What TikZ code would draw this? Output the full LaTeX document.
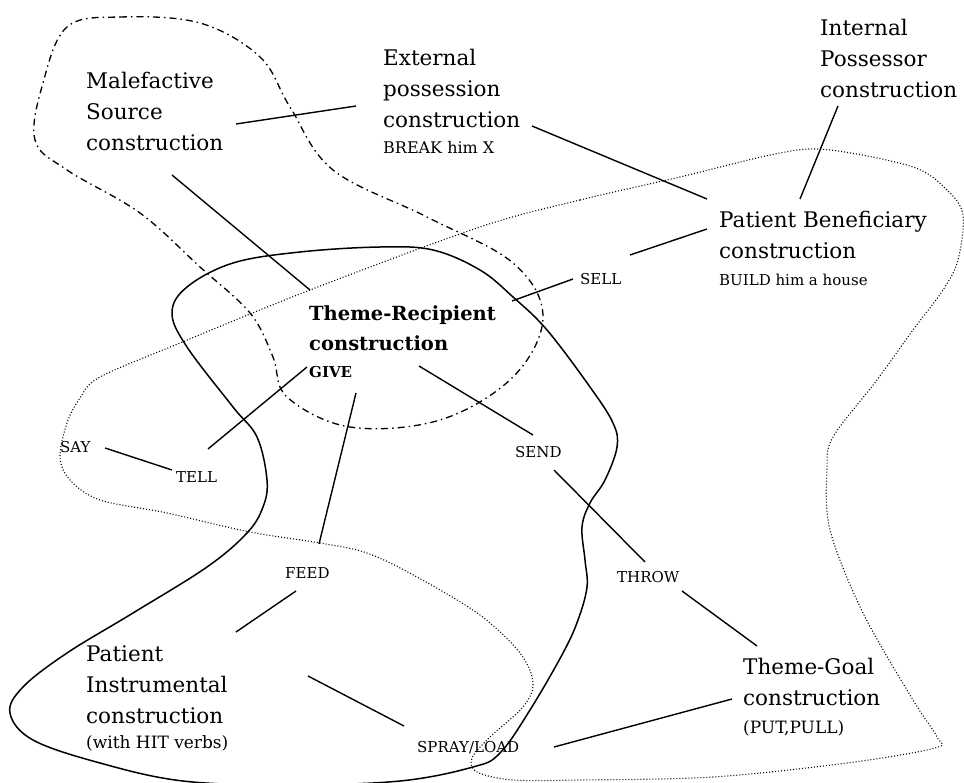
\documentclass[tikz,border=0pt]{standalone}
\usepackage{fontspec}
\setmainfont{DejaVu Serif}
\begin{document}
\begin{tikzpicture}[x=1pt,y=-1pt,
  big/.style={font=\fontsize{21.5}{31}\selectfont, align=left, inner sep=0pt, anchor=base west},
  bigbold/.style={font=\bfseries\fontsize{19.5}{30}\selectfont, align=left, inner sep=0pt, anchor=base west},
  verb/.style={font=\fontsize{15}{18}\selectfont, inner sep=0pt, anchor=base west},
  link/.style={line width=1.4pt},
  solidregion/.style={line width=1.5pt},
  dottedregion/.style={line width=1.1pt, dash pattern=on 1pt off 2pt},
  dashdotregion/.style={line width=1.3pt, dash pattern=on 7pt off 4pt on 1.5pt off 4pt}]
\useasboundingbox (0,0) rectangle (964,783);

% regions
\draw[dashdotregion] plot[smooth cycle, tension=0.6] coordinates {
  (67,27) (120,17) (200,23) (260,57) (290,107) (333,170) (427,217) (513,263)
  (543,317) (513,377) (440,420) (350,427) (287,397) (273,357) (250,313)
  (200,267) (140,213) (67,170) (35,140) (43,83)};
\draw[solidregion] plot[smooth cycle, tension=0.6] coordinates {
  (172,313) (187,287) (233,263) (300,252) (380,247) (433,250) (480,270) (513,297)
  (547,330) (590,387) (613,423) (617,447) (605,480) (590,503) (582,527) (585,560)
  (587,587) (578,620) (563,653) (530,710) (500,753) (473,767) (400,781) (290,785)
  (183,781) (100,763) (33,740) (10,713) (23,687) (67,653) (133,613) (207,567)
  (247,533) (263,507) (267,480) (257,437) (233,407) (187,347)};
\draw[dottedregion] plot[smooth cycle, tension=0.55] coordinates {
  (480,227) (580,200) (680,177) (780,153) (830,150) (913,167) (947,190) (963,215)
  (958,260) (943,290) (913,330) (877,380) (833,437) (827,470) (830,530) (863,613)
  (913,700) (937,737) (935,748) (847,763) (713,777) (580,780) (513,780) (477,772)
  (472,758) (490,737) (523,707) (533,683) (520,653) (480,615) (417,577) (367,553)
  (320,543) (250,532) (167,513) (100,500) (70,480) (60,457) (67,423) (80,398)
  (100,377) (180,343) (310,290)};

% constructions (anchored at the baseline of their last line)
\node[big] (mal) at (86,151) {Malefactive\\Source\\construction};
\node[big] (ext) at (383,154) {External\\possession\\construction\\[-5pt]{\fontsize{16}{19}\selectfont BREAK him X}};
\node[big] (int) at (820,98) {Internal\\Possessor\\construction};
\node[big] (pb) at (719,286) {Patient Beneficiary\\construction\\[-4pt]{\fontsize{15}{19}\selectfont BUILD him a house}};
\node[bigbold] (tr) at (309,378) {Theme-Recipient\\construction\\[-3pt]{\fontsize{15}{19}\selectfont GIVE}};
\node[big] (pi) at (86,748) {Patient\\Instrumental\\construction\\[-6pt]{\fontsize{17}{20}\selectfont (with HIT verbs)}};
\node[big] (tg) at (743,733) {Theme-Goal\\construction\\[-3pt]{\fontsize{17}{20}\selectfont (PUT,PULL)}};

% verbs
\node[verb] (sell) at (580,285) {SELL};
\node[verb] (say) at (60,453) {SAY};
\node[verb] (tell) at (176,482) {TELL};
\node[verb] (send) at (515,457) {SEND};
\node[verb] (feed) at (285,578) {FEED};
\node[verb] (throw) at (617,582) {THROW};
\node[verb] (spray) at (417,752) {SPRAY/LOAD};

% connector ends
\coordinate (mal-e) at (236,124);  \coordinate (ext-w) at (356,106);
\coordinate (mal-s) at (172,175);  \coordinate (tr-nw) at (310,290);
\coordinate (ext-e) at (532,126);  \coordinate (pb-nw) at (707,199);
\coordinate (int-s) at (838,106);  \coordinate (pb-n) at (800,199);
\coordinate (sell-e) at (630,255); \coordinate (pb-w) at (707,229);
\coordinate (sell-w) at (573,279); \coordinate (tr-ne) at (512,301);
\coordinate (tr-sw) at (307,367);  \coordinate (tell-ne) at (208,449);
\coordinate (say-e) at (105,448);  \coordinate (tell-w) at (172,470);
\coordinate (tr-s) at (356,393);   \coordinate (feed-n) at (319,544);
\coordinate (tr-se) at (419,366);  \coordinate (send-nw) at (533,435);
\coordinate (send-se) at (554,470); \coordinate (throw-n) at (645,562);
\coordinate (throw-se) at (682,591); \coordinate (tg-nw) at (757,646);
\coordinate (feed-sw) at (296,591); \coordinate (pi-ne) at (236,632);
\coordinate (pi-e) at (308,676);   \coordinate (spray-nw) at (404,726);
\coordinate (spray-e) at (554,747); \coordinate (tg-w) at (732,699);

% links
\draw[link] (mal-e) -- (ext-w);
\draw[link] (mal-s) -- (tr-nw);
\draw[link] (ext-e) -- (pb-nw);
\draw[link] (int-s) -- (pb-n);
\draw[link] (sell-e) -- (pb-w);
\draw[link] (sell-w) -- (tr-ne);
\draw[link] (tr-sw) -- (tell-ne);
\draw[link] (say-e) -- (tell-w);
\draw[link] (tr-s) -- (feed-n);
\draw[link] (tr-se) -- (send-nw);
\draw[link] (send-se) -- (throw-n);
\draw[link] (throw-se) -- (tg-nw);
\draw[link] (feed-sw) -- (pi-ne);
\draw[link] (pi-e) -- (spray-nw);
\draw[link] (spray-e) -- (tg-w);
\end{tikzpicture}
\end{document}
